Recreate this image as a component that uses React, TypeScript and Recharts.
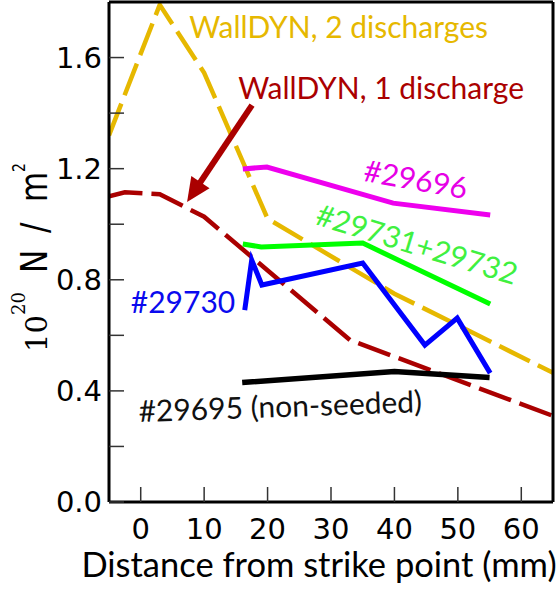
import {
  LineChart,
  Line,
  XAxis,
  YAxis,
  ReferenceDot,
  ReferenceLine,
} from 'recharts';

// Distance from strike point (mm) and density (10^20 N / m^2)
const wallDyn2X = [-5, 3, 10, 20, 40, 65];
const wallDyn2Y = [1.32, 1.79, 1.545, 1.02, 0.75, 0.465];

const wallDyn1X = [-5, -2.5, 3, 10, 33, 65];
const wallDyn1Y = [1.1, 1.115, 1.108, 1.027, 0.583, 0.31];

const shot29696X = [16.1, 19.9, 39.8, 55.1];
const shot29696Y = [1.199, 1.206, 1.076, 1.033];

const shot29731X = [16.1, 19, 35, 55.1];
const shot29731Y = [0.929, 0.918, 0.932, 0.713];

const shot29730X = [16.4, 17.5, 19.1, 35, 44.8, 49.9, 55.1];
const shot29730Y = [0.691, 0.871, 0.781, 0.86, 0.565, 0.662, 0.464];

const shot29695X = [16, 40, 55];
const shot29695Y = [0.43, 0.47, 0.448];

const xTicks = [0, 10, 20, 30, 40, 50, 60];
const yTicks = [0, 0.2, 0.4, 0.6, 0.8, 1.0, 1.2, 1.4, 1.6];

const toRows = (xs: number[], ys: number[]) => xs.map((x, i) => ({ x, y: ys[i] }));

const GOLD = '#e6b800';
const DARK_RED = '#aa0000';

// text annotations, placed in data coordinates
const notes = [
  { text: 'WallDYN, 2 discharges', x: 31.2, y: 1.67, color: GOLD, angle: 0, base: 'auto' },
  { text: 'WallDYN, 1 discharge', x: 37.9, y: 1.451, color: DARK_RED, angle: 0, base: 'auto' },
  { text: '#29696', x: 43.4, y: 1.166, color: '#e600e6', angle: 10, base: 'central' },
  { text: '#29731+29732', x: 43.6, y: 0.932, color: '#40f040', angle: 17, base: 'central' },
  { text: '#29730', x: 6.67, y: 0.68, color: '#0a0aee', angle: 0, base: 'auto' },
  { text: '#29695 (non-seeded)', x: 22, y: 0.349, color: '#111', angle: -2, base: 'central' },
];

const arrowFrom = { x: 17.55, y: 1.429 };
const arrowTo = { x: 7.31, y: 1.08 };

const NOTE_FONT = 'Lato, "Open Sans", sans-serif';
const TICK_FONT = '"DejaVu Sans", sans-serif';
const SERIF = '"DejaVu Serif", serif';

function Arrow(props: any) {
  const { x1, y1, x2, y2 } = props;
  const dx = x2 - x1;
  const dy = y2 - y1;
  const len = Math.hypot(dx, dy) || 1;
  const ux = dx / len;
  const uy = dy / len;
  const head = 24;
  const half = 11;
  const bx = x2 - ux * head;
  const by = y2 - uy * head;
  return (
    <g>
      <line x1={x1} y1={y1} x2={bx + ux * 2} y2={by + uy * 2} stroke={DARK_RED} strokeWidth={6} />
      <polygon
        points={`${x2},${y2} ${bx - uy * half},${by + ux * half} ${bx + uy * half},${by - ux * half}`}
        fill={DARK_RED}
      />
    </g>
  );
}

// rotated "10^20 N / m^2"; the unit part is drawn a little condensed like the original
function YTitle(props: any) {
  const vb = props.viewBox || { x: 0, y: 0, width: 109, height: 500 };
  const bx = vb.x + 47;
  const by = vb.y + vb.height / 2 + 100;
  return (
    <g fill="#000">
      <text transform={`translate(${bx},${by}) rotate(-90)`} fontFamily={SERIF}>
        <tspan x={0} fontSize={29}>10</tspan>
        <tspan x={37} dy={-22} fontSize={18}>20</tspan>
      </text>
      <text transform={`translate(${bx},${by}) rotate(-90) scale(1,1.2)`} fontFamily={TICK_FONT}>
        <tspan x={79} fontSize={31}>N</tspan>
        <tspan x={119} fontSize={31}>/</tspan>
        <tspan x={150} fontSize={31}>m</tspan>
        <tspan x={180} dy={-18} fontSize={14}>2</tspan>
      </text>
    </g>
  );
}

function XTitle(props: any) {
  const vb = props.viewBox || { x: 109, y: 502, width: 444, height: 90 };
  return (
    <text
      x={vb.x + vb.width / 2 - 12}
      y={vb.y + 75}
      textAnchor="middle"
      fontFamily={NOTE_FONT}
      fontSize={34.5}
      fill="#000"
    >
      Distance from strike point (mm)
    </text>
  );
}

const yLabel = (v: number) => (Math.round(v * 10) % 4 === 0 ? v.toFixed(1) : '');

export default function App() {
  const series = [
    { key: 'wd1', data: toRows(wallDyn1X, wallDyn1Y), color: DARK_RED, dash: '34 9', w: 4.5 },
    { key: 'wd2', data: toRows(wallDyn2X, wallDyn2Y), color: GOLD, dash: '34 9', w: 4.5 },
    { key: '29695', data: toRows(shot29695X, shot29695Y), color: '#000', dash: undefined, w: 5.5 },
    { key: '29696', data: toRows(shot29696X, shot29696Y), color: '#ee00ee', dash: undefined, w: 5 },
    { key: '29731', data: toRows(shot29731X, shot29731Y), color: '#00ff00', dash: undefined, w: 5 },
    { key: '29730', data: toRows(shot29730X, shot29730Y), color: '#0000ff', dash: undefined, w: 5 },
  ];

  return (
    <div style={{ position: 'absolute', left: 0, top: 0, width: 560, height: 592, background: '#fff' }}>
      <LineChart width={560} height={592} margin={{ top: 2, right: 7, left: 0, bottom: 0 }}>
        <XAxis
          dataKey="x"
          type="number"
          domain={[-5, 65]}
          ticks={xTicks}
          allowDataOverflow
          height={90}
          tickSize={-15}
          tickMargin={31}
          tickLine={{ stroke: '#333', strokeWidth: 1.5 }}
          axisLine={{ stroke: '#000', strokeWidth: 3 }}
          tick={{ fill: '#000', fontSize: 29, fontFamily: TICK_FONT }}
          label={<XTitle />}
        />
        <XAxis
          xAxisId="top"
          orientation="top"
          mirror
          dataKey="x"
          type="number"
          domain={[-5, 65]}
          ticks={xTicks}
          allowDataOverflow
          tick={false}
          tickSize={14}
          tickLine={{ stroke: '#333', strokeWidth: 1.5 }}
          axisLine={{ stroke: '#000', strokeWidth: 3 }}
        />
        <YAxis
          type="number"
          domain={[0, 1.8]}
          ticks={yTicks}
          allowDataOverflow
          width={109}
          tickSize={-15}
          tickMargin={22}
          tickFormatter={yLabel}
          tickLine={{ stroke: '#333', strokeWidth: 1.5 }}
          axisLine={{ stroke: '#000', strokeWidth: 3 }}
          tick={{ fill: '#000', fontSize: 29, fontFamily: TICK_FONT }}
          label={<YTitle />}
        />
        <YAxis
          yAxisId="right"
          orientation="right"
          mirror
          type="number"
          domain={[0, 1.8]}
          ticks={yTicks}
          allowDataOverflow
          tick={false}
          tickSize={15}
          tickLine={{ stroke: '#333', strokeWidth: 1.5 }}
          axisLine={{ stroke: '#000', strokeWidth: 3 }}
        />

        {series.map((s) => (
          <Line
            key={s.key}
            data={s.data}
            dataKey="y"
            type="linear"
            stroke={s.color}
            strokeWidth={s.w}
            strokeDasharray={s.dash}
            dot={false}
            activeDot={false}
            isAnimationActive={false}
          />
        ))}

        <ReferenceLine
          segment={[arrowFrom, arrowTo]}
          ifOverflow="visible"
          shape={(p: any) => <Arrow {...p} />}
        />

        {notes.map((n) => (
          <ReferenceDot
            key={n.text}
            x={n.x}
            y={n.y}
            r={0}
            ifOverflow="visible"
            shape={(p: any) => (
              <text
                x={p.cx}
                y={p.cy}
                transform={n.angle ? `rotate(${n.angle} ${p.cx} ${p.cy})` : undefined}
                textAnchor="middle"
                dominantBaseline={n.base}
                fontFamily={NOTE_FONT}
                fontSize={30}
                fill={n.color}
              >
                {n.text}
              </text>
            )}
          />
        ))}
      </LineChart>
    </div>
  );
}
